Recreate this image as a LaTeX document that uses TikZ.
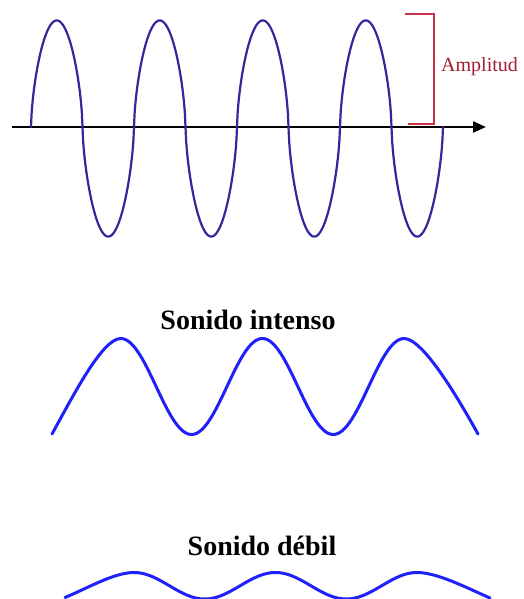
\documentclass[tikz,border=0pt]{standalone}
\usepackage{fontspec}
\setmainfont{Liberation Serif}
\usetikzlibrary{arrows.meta}

\begin{document}
\begin{tikzpicture}[x=1pt, y=-1pt,
		wave/.style={line width=#1, line join=round, line cap=round},
		label/.style={font=\fontsize{28}{30}\selectfont\bfseries, inner sep=0pt, anchor=base},
		declare function={lobe(\t)=sin(\t)/(abs(sin(\t))+0.01)^0.4;}
		]
		
		% ==========================================
		% COLOURS AND FRAME
		% ==========================================
		\definecolor{navywave}{RGB}{48,40,155}
		\definecolor{brightwave}{RGB}{32,32,250}
		\definecolor{ampred}{RGB}{200,50,72}
		\definecolor{amptext}{RGB}{160,30,50}
		
		\path[use as bounding box] (0,0) rectangle (524,599);
		\clip (0,0) rectangle (524,599);
		
		% ==========================================
		% TOP WAVE WITH AXIS
		% ==========================================
		\coordinate (axisL) at (12,127);
		\coordinate (axisR) at (486,127);
		\draw[line width=2.2pt, -{Triangle[length=13pt, width=11pt]}] (axisL) -- (axisR);
		
		% four full periods, half period 51.5
		\draw[wave=2.2pt, draw=navywave] plot[domain=0:1440, samples=721]
			({31+\x/180*51.5}, {127-lobe(\x)*(108.5-1.5*lobe(\x))});
		
		% Amplitude bracket
		\coordinate (brTop) at (405,14);
		\coordinate (brTopR) at (434,14);
		\coordinate (brBotR) at (434,124);
		\coordinate (brBot) at (408,124);
		\draw[line width=2pt, ampred] (brTop) -- (brTopR) -- (brBotR) -- (brBot);
		\node[anchor=base west, inner sep=0pt, text=amptext, font=\fontsize{20}{22}\selectfont]
			(amp) at (441,72) {Amplitud};
		
		% ==========================================
		% LOUD AND SOFT SOUND
		% ==========================================
		% ends are cut on the rise, so they get their own curves
		\node[label] (loud) at (248,329) {Sonido intenso};
		\draw[wave=3pt, draw=brightwave] (52,434) .. controls (72,398) and (102,338.5) .. (120.7,338.5)
			-- plot[domain=120.7:404, samples=120] (\x, {386.5-48*cos((\x-120.7)/141.7*360)})
			.. controls (423,338.5) and (458,398) .. (478,434);
		
		\node[label] (soft) at (262,555) {Sonido débil};
		\draw[wave=3pt, draw=brightwave] (65,597.5) .. controls (88,588) and (114,572.5) .. (134,572.5)
			-- plot[domain=134:417, samples=120] (\x, {585.75-13.25*cos((\x-134)/141.5*360)})
			.. controls (437,572.5) and (465,587) .. (490,598);
		
	\end{tikzpicture}
\end{document}
